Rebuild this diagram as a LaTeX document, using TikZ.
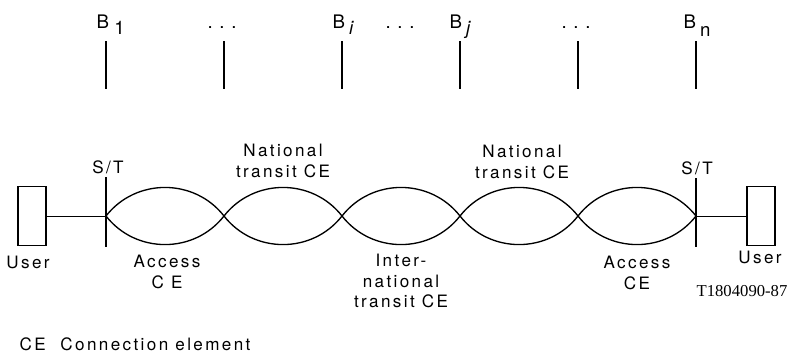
\documentclass[tikz,border=0pt]{standalone}
\usepackage{fontspec}
\setmainfont{TeX Gyre Heros}[LetterSpace=14]
\newfontfamily\codefont{Liberation Serif}
\usetikzlibrary{positioning}

\begin{document}
\begin{tikzpicture}[
x=0.75pt, y=-0.75pt, line width=1pt,
user-box/.style = {draw, rectangle, line width=1pt, minimum width=21pt, minimum height=44pt, inner sep=0pt},
ce-text/.style = {font=\fontsize{12.8}{15.5}\selectfont, align=center, inner sep=0pt},
bus-text/.style = {font=\fontsize{14}{16}\selectfont, anchor=base west, inner sep=0pt},
dots-text/.style = {font=\fontsize{14}{16}\selectfont, anchor=base, inner sep=0pt}
]
\useasboundingbox (0,0) rectangle (787,362);

% junction points and bus ticks
\foreach \i/\x in {0/106,1/224,2/342,3/460,4/578,5/696} {
  \coordinate (p\i) at (\x,216);
  \coordinate (t\i-top) at (\x,41);
  \coordinate (t\i-bot) at (\x,89);
  \draw (t\i-top) -- (t\i-bot);
}

% bus labels
\node [bus-text] (b-1) at (96,28) {B\hspace{4pt}\raisebox{-5pt}{1}};
\node [bus-text] (b-i) at (332,28) {B\hspace{3pt}\raisebox{-5pt}{\itshape i}};
\node [bus-text] (b-j) at (449,28) {B\hspace{3pt}\raisebox{-5pt}{\itshape j}};
\node [bus-text] (b-n) at (683,28) {B\hspace{3pt}\raisebox{-6pt}{n}};
\node [dots-text] (dots-1) at (222,28) {.\hspace{5pt}.\hspace{5pt}.};
\node [dots-text] (dots-2) at (400,28) {.\hspace{5pt}.\hspace{5pt}.};
\node [dots-text] (dots-3) at (576,28) {.\hspace{5pt}.\hspace{5pt}.};

% users and S/T reference points
\node [user-box] (user-l) at (32,216) {};
\node [user-box] (user-r) at (761,216) {};
\coordinate (st-l-top) at (106,177);
\coordinate (st-l-bot) at (106,247);
\coordinate (st-r-top) at (696,178);
\coordinate (st-r-bot) at (696,247);
\draw (st-l-top) -- (st-l-bot);
\draw (st-r-top) -- (st-r-bot);
\draw [line width=0.6pt] (user-l) -- (p0);
\draw [line width=0.6pt] (p5) -- (user-r);

% connection elements
\foreach \a/\b in {p0/p1,p1/p2,p2/p3,p3/p4,p4/p5} {
  \draw (\a) to[out=52,in=128,looseness=1.05] (\b);
  \draw (\a) to[out=-52,in=-128,looseness=1.05] (\b);
}

% labels
\node [ce-text] (st-l) at (108,167) {S/T};
\node [ce-text] (st-r) at (697,168) {S/T};
\node [ce-text] (user-l-text) at (28,262) {User};
\node [ce-text] (user-r-text) at (760,257) {User};
\node [ce-text] (nat-l) at (283,161) {National\\transit CE};
\node [ce-text] (nat-r) at (522,162) {National\\transit CE};
\node [ce-text] (acc-l) at (167,272) {Access\\C E};
\node [ce-text] (acc-r) at (637,273) {Access\\CE};
\node [ce-text] (intl) at (401,281) {Inter-\\national\\transit CE};
\node [inner sep=0pt, font=\codefont\fontsize{12.5}{14}\selectfont] (code) at (742,291) {T1804090-87};
\node [ce-text, anchor=base west] (legend) at (19,350) {CE\hspace{11pt}Connection element};

\end{tikzpicture}
\end{document}
